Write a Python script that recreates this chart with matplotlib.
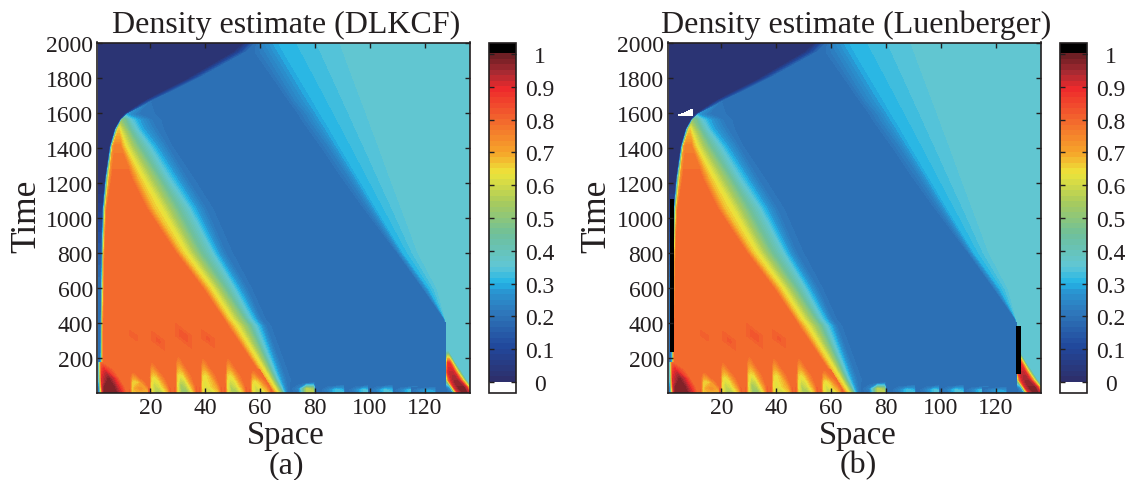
import numpy as np
import matplotlib
matplotlib.use('Agg')
import matplotlib.pyplot as plt
from matplotlib.colors import LinearSegmentedColormap, ListedColormap, Normalize
from matplotlib.cm import ScalarMappable

plt.rcParams['font.family'] = ['Liberation Serif', 'DejaVu Serif']
ink = '#231f20'

# colour bar
bar_values = [-0.032, 0.0, 0.1, 0.2, 0.27, 0.3, 0.35, 0.45, 0.55, 0.64, 0.7, 0.8, 0.9, 0.95, 1.0, 1.035]
bar_colors = ['#2d2f6b', '#2d2f6b', '#21479b', '#2e75b9', '#2a93d0', '#22b5e6', '#60c6d6', '#6fc09a',
              '#a9cb5c', '#ede43a', '#f6a62a', '#f3692d', '#ee2a2c', '#a82a32', '#6e1f24', '#6e1f24']
bar_ticks = [0, 0.1, 0.2, 0.3, 0.4, 0.5, 0.6, 0.7, 0.8, 0.9, 1]
bar_labels = ['0', '0.1', '0.2', '0.3', '0.4', '0.5', '0.6', '0.7', '0.8', '0.9', '1']
space_ticks = [20, 40, 60, 80, 100, 120]
time_ticks = [200, 400, 600, 800, 1000, 1200, 1400, 1600, 1800, 2000]

# density of the orange plateau
plateau = .795

# where each density level sits in space, one list per level, at the times of front_time
front_time = [0, 80, 380, 420, 593, 800, 1048, 1222, 1407, 1504, 1560, 1590, 1664, 1789, 1945, 2000]
edge_density = [.15, .2, .2, .2, .2, .15, .08, .02, .02, .02, .02, .02, .02, .02, .02, .02]
ridge_cap = [1, 1, 1, 1, 1, 1, 1, 1, .76, .66, .48, .28, .2, .2, .2, .2]
front_density = [0, 0, .19, .45, .72, plateau, plateau, .68, .62, .47, .37, .30, .22, .20, .20, .235, .30, .33, .365, .365]
front_space = [
    [1] * 16,
    [1.5, 1.5, 1.6, 1.6, 1.8, 2, 2.5, 3.5, 5.2, 7, 9, 10.5, 17.5, 33, 50, 54],
    [1.8, 1.8, 1.9, 1.9, 2.1, 2.3, 2.8, 3.8, 5.5, 7.3, 9.3, 11.5, 20.5, 37, 55, 58.5],
    [2.1, 2.1, 2.2, 2.2, 2.4, 2.6, 3.1, 4.1, 5.8, 7.6, 9.6, 11.5, 20.5, 37, 55, 58.5],
    [2.6, 2.6, 2.7, 2.7, 2.9, 3.1, 3.7, 5, 6.3, 8.3, 9.6, 11.5, 20.5, 37, 55, 58.5],
    [3, 3, 3.1, 3.1, 3.3, 3.5, 4.2, 6, 7, 8.5, 9.6, 11.5, 20.5, 37, 55, 58.5],
    [64.5, 61, 48, 46.5, 39, 29, 18.5, 13, 9, 8.5, 9.6, 11.5, 20.5, 37, 55, 58.5],
    [65.5, 62, 50, 48, 41, 31, 21, 15.5, 10, 8.5, 9.6, 11.5, 20.5, 37, 55, 58.5],
    [66.5, 63.5, 52, 50, 43, 33.5, 24.5, 18, 11.5, 9, 9.6, 11.5, 20.5, 37, 55, 58.5],
    [68, 65, 56, 54, 47, 38, 29.5, 23, 15.5, 12, 10.5, 11.5, 20.5, 37, 55, 58.5],
    [68.5, 66, 58, 56, 50, 42, 33.5, 26, 19, 14.5, 12.5, 11.5, 20.5, 37, 55, 58.5],
    [69, 67, 60, 58, 52, 44, 36, 29, 21.5, 16.7, 15, 11.5, 20.5, 37, 55, 58.5],
    [70, 69, 62, 60, 55, 47, 40, 33, 26, 22, 20, 15, 20.5, 37, 55, 58.5],
    [72, 71, 64, 62, 57, 50, 43, 36, 28, 25, 24, 22, 25, 37.2, 55.1, 58.6],
    [127.5, 127.5, 127.5, 127.2, 119.5, 110, 98, 90, 82, 77.6, 75, 74, 70.5, 65, 58, 58.6],
    [127.6, 127.6, 127.6, 127.3, 120, 110.6, 100, 92.8, 85, 80.5, 78, 77, 73, 68, 62, 60],
    [127.7, 127.7, 127.7, 127.4, 121.5, 112, 102.3, 95.7, 88.6, 85, 82.8, 81.6, 78.8, 74, 68, 66],
    [127.8, 127.8, 127.8, 127.5, 123, 114.8, 107.2, 101.8, 96.2, 93.2, 91.5, 90.6, 88.3, 84.5, 79.7, 78],
    [127.9, 127.9, 127.9, 127.6, 125.5, 119.2, 114.4, 111, 107.5, 105.6, 104.5, 104, 102.5, 100, 97, 96],
    [137] * 16,
]

# darker wedge under the main blue area
wedge_time = [0, 60, 400]
wedge_space = [[75, 81, 127.4], [76, 82.5, 127.4], [127.5, 127.5, 127.5]]
wedge_density = [.20, .185, .185]

# low corner on the left
corner_time = [0, 30, 80, 130, 170]
corner_space = [[1, 2, 2.6, 3.2, 7.5, 9.5, 11],
                [1, 1.8, 2.4, 3.2, 6.8, 8.5, 10.5],
                [1, 1.7, 2.2, 4.6, 4.8, 6.8, 8.5],
                [1, 1.6, 2.1, 3.2, 3.3, 3.4, 6.5],
                [1, 1.6, 2, 2.2, 2.4, 2.6, 3.5]]
corner_density = [[.12, .6, .9, .97, .97, .9, plateau],
                  [.12, .6, .9, .97, .97, .9, plateau],
                  [.25, .6, .9, .97, .97, .9, plateau],
                  [.25, .6, .85, .9, .9, .88, plateau],
                  [.2, .6, plateau, plateau, plateau, plateau, plateau]]

# red wedge on the right
red_time = [0, 30, 70, 120, 170, 235]
red_space = [[127.9, 130.2, 131.2, 132.2, 133.7, 135.2, 136.2, 137, 137.7],
             [127.9, 129.2, 130, 130.7, 132.2, 134.2, 135.2, 136.2, 137.2],
             [127.9, 128.3, 128.7, 129.5, 130.7, 131.7, 132.7, 134.2, 135.2],
             [127.9, 128.2, 128.5, 128.9, 129.3, 129.9, 130.7, 132, 133.2],
             [127.9, 128.1, 128.3, 128.5, 128.7, 128.9, 129.2, 130.2, 131],
             [127.9, 128, 128.1, 128.2, 128.3, 128.4, 128.5, 128.6, 128.7]]
red_density = [[.18, .25, .62, .9, .97, .97, .9, .62, .365],
               [.2, .3, .62, .9, .97, .97, .9, .62, .365],
               [.5, .62, .8, .9, .95, .95, .9, .62, .365],
               [.75, .85, .9, .92, .92, .92, .9, .62, .365],
               [.62, .7, .8, .88, .88, .88, .85, .62, .365],
               [.365, .365, .365, .365, .365, .365, .365, .365, .365]]

# teeth along the bottom: left edge, height, lowest density
tooth_space = [13, 20, 29.5, 38.6, 47.7, 56.8]
tooth_height = [120, 176, 211, 200, 200, 130]
tooth_low = [.68, .56, .52, .6, .55, .58]
tooth_rows = [0, .2, .5, .8, 1]
tooth_offsets = [[-.6, .2, 2, 4, 6.5, 7.5],
                 [-.6, .2, 1.5, 3.2, 5.5, 7],
                 [-.6, .2, 1.2, 2.5, 4, 5.5],
                 [-.6, .2, 1, 1.8, 2.8, 4],
                 [-.6, .2, .8, 1.4, 2, 3]]

# small crests on the blue side: right edge, height, peak density
crest_space = [80, 90.7, 100.7, 108.5, 117.5, 124]
crest_height = [55, 40, 40, 40, 35, 30]
crest_peak = [.58, .33, .34, .34, .33, .3]
crest_offsets = [-9, -6, -3, -.5, 0]

# darker spots inside the orange area
spot_space = [13.8, 22.8, 32, 41]
spot_time = [325, 297, 325, 308]
spot_width = [2, 3, 3.5, 3]
spot_height = [45, 70, 85, 65]
spot_peak = [.815, .825, .835, .825]

# extra marks of panel (b)
left_bar_space = [1.3, 2.6]
left_bar_time = [233, 1105]
right_bar_space = [127.3, 129.1]
right_bar_time = [108, 381]
sliver_space = [[4.2, 9.7], [6.2, 9.2]]
sliver_time = [[1584, 1580], [1600, 1618]]

vmin, vmax = -0.032, 1.035
norm = Normalize(vmin, vmax)
stops = [((v - vmin) / (vmax - vmin), c) for v, c in zip(bar_values, bar_colors)]
table = LinearSegmentedColormap.from_list('density', stops, N=64)(np.arange(64))
table[:2] = [1, 1, 1, 1]
table[-2:] = [0, 0, 0, 1]
cmap = ListedColormap(table)
levels = np.linspace(vmin, vmax, 65)


def fill(ax, x, y, z):
    ax.contourf(x, y, z, levels=levels, cmap=cmap, norm=norm)


def draw_density(ax):
    x = np.array(front_space).T
    y = np.tile(np.array(front_time)[:, None], (1, x.shape[1]))
    z = np.tile(np.array(front_density, dtype=float), (x.shape[0], 1))
    z[:, 0] = edge_density
    z[:, 1] = edge_density
    z[:, 3:13] = np.minimum(z[:, 3:13], np.array(ridge_cap)[:, None])
    fill(ax, x, y, z)

    x = np.array(wedge_space).T
    y = np.tile(np.array(wedge_time)[:, None], (1, x.shape[1]))
    z = np.tile(wedge_density, (x.shape[0], 1))
    fill(ax, x, y, z)

    for sx, st, w, h, p in zip(spot_space, spot_time, spot_width, spot_height, spot_peak):
        x = np.array([[sx + w * .2, sx + w, sx + w * 1.8],
                      [sx - w, sx, sx + w],
                      [sx - w * 1.8, sx - w, sx - w * .2]])
        y = np.array([[st - h] * 3, [st] * 3, [st + h] * 3])
        z = np.array([[plateau] * 3, [plateau, p, plateau], [plateau] * 3])
        fill(ax, x, y, z)

    for sx, h, low in zip(tooth_space, tooth_height, tooth_low):
        x = sx + np.array(tooth_offsets)
        y = np.tile((np.array(tooth_rows) * h)[:, None], (1, 6))
        z = np.array([[.81, .66, low, low, .68, .81],
                      [.80, .64, low + .02, low + .05, .70, .80],
                      [plateau, .66, .64, .66, .74, plateau],
                      [plateau, .74, .73, .76, plateau, plateau],
                      [plateau] * 6])
        fill(ax, x, y, z)

    for sx, h, p in zip(crest_space, crest_height, crest_peak):
        x = np.tile(sx + np.array(crest_offsets, dtype=float), (3, 1))
        y = np.tile(np.array([0, .4, 1])[:, None] * h, (1, 5))
        z = np.array([[.185, .22, p, p, .185],
                      [.185, .24, p, p * .9, .185],
                      [.185, .185, .185, .22, .185]])
        fill(ax, x, y, z)

    y = np.tile(np.array(corner_time)[:, None], (1, 7))
    fill(ax, np.array(corner_space), y, np.array(corner_density))
    y = np.tile(np.array(red_time)[:, None], (1, 9))
    fill(ax, np.array(red_space), y, np.array(red_density))


def style_axes(ax):
    ax.set_xlim(0.5, 136.5)
    ax.set_ylim(0.5, 2000.5)
    ax.set_xticks(space_ticks)
    ax.set_yticks(time_ticks)
    ax.tick_params(direction='in', top=True, right=True, length=3.5, width=1, labelsize=17,
                   color=ink, labelcolor=ink, pad=3)
    for s in ax.spines.values():
        s.set_linewidth(1.2)
        s.set_color(ink)


W, H = 1130, 481
fig = plt.figure(figsize=(W / 100, H / 100), dpi=100)


def panel(left, right, bar_left, bar_right, title, tag, space_px, time_px, tag_px, title_px):
    ax = fig.add_axes([left / W, 1 - 393.5 / H, (right - left) / W, 350 / H])
    draw_density(ax)
    style_axes(ax)
    fig.text(title_px / W, 1 - 25 / H, title, fontsize=23, color=ink, ha='center', va='center')
    fig.text(space_px / W, 1 - 436 / H, 'Space', fontsize=23.5, color=ink, ha='center', va='center')
    fig.text(time_px / W, 1 - 216 / H, 'Time', fontsize=25.5, color=ink, ha='center', va='center', rotation=90)
    fig.text(tag_px / W, 1 - 466 / H, tag, fontsize=23, color=ink, ha='center', va='center')

    cax = fig.add_axes([bar_left / W, 1 - 393.5 / H, (bar_right - bar_left) / W, 350 / H])
    cb = fig.colorbar(ScalarMappable(norm=Normalize(vmin, vmax), cmap=cmap), cax=cax, ticks=bar_ticks)
    cb.set_ticklabels(bar_labels)
    cb.outline.set_linewidth(1.2)
    cb.outline.set_edgecolor(ink)
    cax.tick_params(direction='in', left=True, right=True, length=3.5, width=1, labelsize=17,
                    color=ink, labelcolor=ink, pad=17)
    for label in cax.get_yticklabels():
        label.set_ha('center')
    return ax


ax_a = panel(97, 470, 489, 516, 'Density estimate (DLKCF)', '(a)', 286, 27, 286, 286)
ax_b = panel(668, 1041, 1060, 1087, 'Density estimate (Luenberger)', '(b)', 858, 597, 858, 856)

ax_b.pcolormesh(left_bar_space, left_bar_time, [[1.02]], cmap=cmap, norm=norm)
ax_b.pcolormesh(right_bar_space, right_bar_time, [[1.02]], cmap=cmap, norm=norm)
ax_b.pcolormesh(np.array(sliver_space), np.array(sliver_time), [[-0.02]], cmap=cmap, norm=norm)

fig.savefig('out.png', dpi=100)
